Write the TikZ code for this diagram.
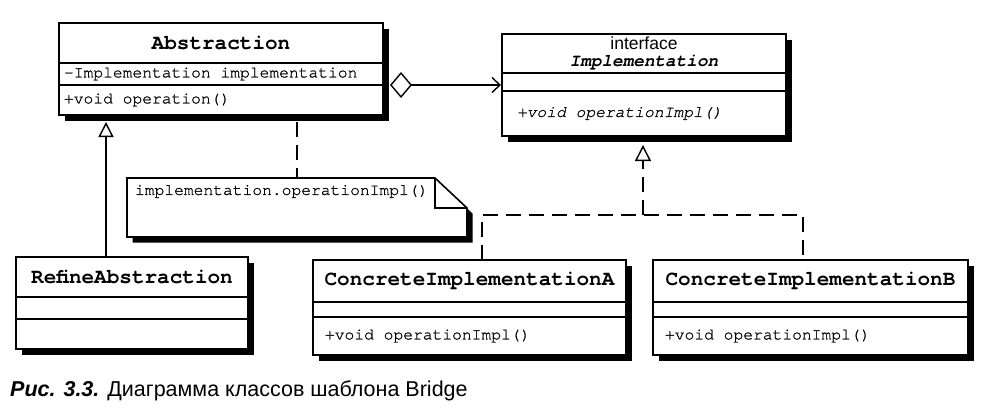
\documentclass[tikz,border=0pt]{standalone}
\usepackage{fontspec}
\setmainfont{Liberation Sans}
\setsansfont{Liberation Sans}
\setmonofont{TeX Gyre Cursor}[UprightFeatures={FakeBold=0.8}, ItalicFeatures={FakeBold=0.8}]
\usetikzlibrary{arrows.meta,positioning,shadows,backgrounds}
\newcommand\namefont{\fontsize{21}{24}\selectfont\ttfamily\bfseries}
\newcommand\partfont{\fontsize{16.3}{19}\selectfont\ttfamily}
\tikzset{
  clsbox/.style={draw, fill=white, line width=1.6pt, outer sep=0pt, inner xsep=5pt, inner ysep=0pt,
    drop shadow={shadow xshift=5.5pt, shadow yshift=-5.5pt, fill=black, opacity=1}},
  clsname/.style={clsbox, align=center, font=\namefont},
  clspart/.style={clsbox, font=\partfont, execute at begin node={\noindent\spaceskip=0.6em\relax}},
  notetext/.style={font=\partfont, inner xsep=8pt, inner ysep=7pt, outer sep=0pt, execute at begin node=\noindent},
  link/.style={line width=1.4pt},
  dashlink/.style={link, dash pattern=on 15pt off 8pt},
  aggr/.style={link, {Diamond[open, length=22pt, width=26pt]}-{Straight Barb[length=8pt, width=15pt]}},
  inherit/.style={link, -{Triangle[open, length=15pt, width=15pt]}},
  realize/.style={dashlink, -{Triangle[open, length=16pt, width=16pt]}}
}

\begin{document}
\begin{tikzpicture}[x=1pt, y=-1pt]
  \useasboundingbox (0,0) rectangle (990,415);

  % Abstraction
  \node[clsname, text width=314pt, minimum height=40pt, anchor=north west] (abs) at (59,23) {Abstraction};
  \node[clspart, text width=314pt, minimum height=22pt, below=0pt of abs] (absattr) {-Implementation implementation};
  \node[clspart, text width=314pt, minimum height=30pt, below=0pt of absattr] (absops) {+void operation()};

  % interface Implementation
  \node[clsname, text width=274pt, minimum height=39pt, anchor=north west,
        font=\fontsize{17.7}{16.5}\selectfont\ttfamily\bfseries] (impl) at (502,34)
    {{\sffamily\mdseries\fontsize{17.5}{16.5}\selectfont interface}\\{\itshape Implementation}};
  \node[clspart, text width=274pt, minimum height=18pt, below=0pt of impl] (implattr) {};
  \node[clspart, inner xsep=15pt, text width=254pt, minimum height=45pt, below=0pt of implattr] (implops) {\itshape +void operationImpl()};

  % RefineAbstraction
  \node[clsname, text width=222pt, minimum height=40pt, anchor=north west] (refine) at (16,257) {RefineAbstraction};
  \node[clspart, text width=222pt, minimum height=22pt, below=0pt of refine] (refineattr) {};
  \node[clspart, text width=222pt, minimum height=30pt, below=0pt of refineattr] (refineops) {};

  % ConcreteImplementationA / B
  \node[clsname, text width=303pt, minimum height=42pt, anchor=north west] (cia) at (313,260) {ConcreteImplementationA};
  \node[clspart, text width=303pt, minimum height=15pt, below=0pt of cia] (ciaattr) {};
  \node[clspart, inner xsep=12pt, text width=289pt, minimum height=38pt, below=0pt of ciaattr] (ciaops) {+void operationImpl()};

  \node[clsname, text width=305pt, minimum height=42pt, anchor=north west] (cib) at (653,260) {ConcreteImplementationB};
  \node[clspart, text width=305pt, minimum height=15pt, below=0pt of cib] (cibattr) {};
  \node[clspart, inner xsep=12pt, text width=291pt, minimum height=38pt, below=0pt of cibattr] (cibops) {+void operationImpl()};

  % note
  \node[notetext, text width=324pt, anchor=north west] (note) at (127,178) {implementation.operationImpl()};
  \begin{scope}[on background layer]
    \fill ([shift={(5.5,5.5)}]note.north west) -- ++(308,0) -- ++(32,30) -- ++(0,29) -- ++(-340,0) -- cycle;
    \filldraw[fill=white, line width=1.6pt] (note.north west) -- ++(308,0) -- ++(32,30) -- ++(0,29) -- ++(-340,0) -- cycle;
    \draw[line width=1.4pt] ([xshift=308pt]note.north west) -- ++(0,30) -- ++(32,0);
  \end{scope}

  % connectors
  \draw[aggr] ([xshift=7pt]absattr.south east) -- ([xshift=-1pt]absattr.south east -| impl.west);
  \draw[inherit] ([xshift=90pt]refine.north west) -- ([xshift=90pt, yshift=-7pt]refine.north west |- absops.south);
  \draw[dashlink] ([yshift=-7pt]note.north |- absops.south) -- (note.north);
  \coordinate (split) at (643,215);
  \draw[dashlink] ([xshift=12.5pt]cia.north) |- (split) -| ([xshift=-7.5pt]cib.north);
  \draw[realize] (split) -- ([yshift=-9pt]split |- implops.south);

  % caption
  \node[anchor=west, inner sep=0pt, font=\fontsize{21.5}{24}\selectfont] (caption) at (10,391)
    {\textbf{\textit{Рис. 3.3.}} Диаграмма классов шаблона Bridge};
\end{tikzpicture}
\end{document}
